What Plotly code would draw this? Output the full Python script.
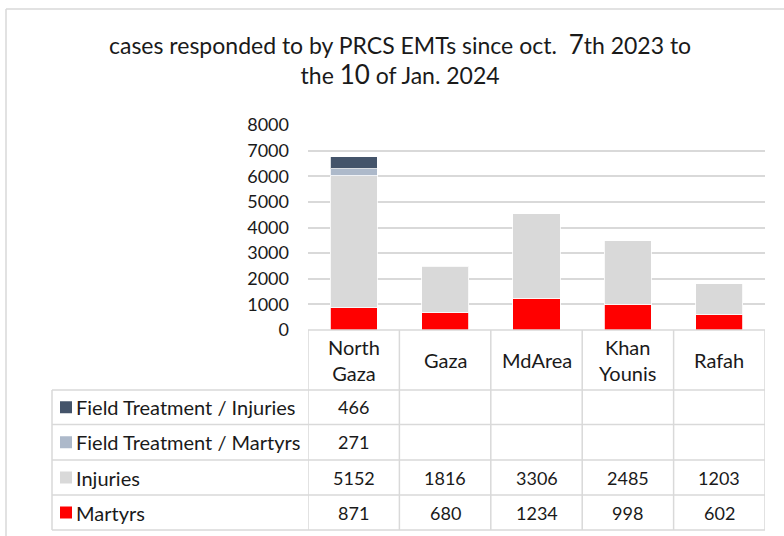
import plotly.graph_objects as go

# ---- data ----
categories = ["North Gaza", "Gaza", "MdArea", "Khan Younis", "Rafah"]
category_labels = ["North<br>Gaza", "Gaza", "MdArea", "Khan<br>Younis", "Rafah"]
martyrs = [871, 680, 1234, 998, 602]
injuries = [5152, 1816, 3306, 2485, 1203]
ft_martyrs = [271, None, None, None, None]
ft_injuries = [466, None, None, None, None]
y_ticks = [0, 1000, 2000, 3000, 4000, 5000, 6000, 7000, 8000]

series_names = ["Field Treatment / Injuries", "Field Treatment / Martyrs", "Injuries", "Martyrs"]
series_values = [ft_injuries, ft_martyrs, injuries, martyrs]
series_colors = ["#44546a", "#adb9ca", "#d9d9d9", "#ff0000"]

FONT = "Lato, Carlito, Calibri, sans-serif"
TEXT = "#1a1a1a"
GRID = "#d9d9d9"
LABEL_SIZE = 20
NUM_SIZE = 18

W, H = 784, 536
L, R, T, B = 308, 765, 125, 330


def px(x):
    return (x - L) / (R - L)


def py(y):
    return (B - y) / (B - T)


fig = go.Figure()
# stacked bars, bottom to top
for name, vals, col in reversed(list(zip(series_names, series_values, series_colors))):
    fig.add_trace(go.Bar(x=categories, y=vals, name=name,
                         marker=dict(color=col, line=dict(color="rgba(255,255,255,0.8)", width=1)),
                         showlegend=False))

shapes = []
annotations = []
line = dict(color=GRID, width=1.5)

# outer chart border
shapes.append(dict(type="line", xref="paper", yref="paper", x0=px(6), x1=px(800), y0=py(9), y1=py(9), line=line))
shapes.append(dict(type="line", xref="paper", yref="paper", x0=px(6), x1=px(6), y0=py(9), y1=py(560), line=line))

# data table
row_edges = [390, 424.5, 460, 495, 530]
header_top = 330
ncat = len(categories)
shapes.append(dict(type="line", xref="x", yref="paper", x0=-0.5, x1=ncat - 0.5,
                   y0=py(header_top), y1=py(header_top), line=line))
for ye in row_edges:
    shapes.append(dict(type="line", xref="paper", yref="paper", x0=px(52), x1=px(R),
                       y0=py(ye), y1=py(ye), line=line))
for i in range(ncat + 1):
    shapes.append(dict(type="line", xref="x", yref="paper", x0=i - 0.5, x1=i - 0.5,
                       y0=py(header_top), y1=py(row_edges[-1]), line=line))
shapes.append(dict(type="line", xref="paper", yref="paper", x0=px(52), x1=px(52),
                   y0=py(row_edges[0]), y1=py(row_edges[-1]), line=line))

# header labels
for cat, lab in zip(categories, category_labels):
    annotations.append(dict(x=cat, xref="x", y=py(360), yref="paper", text=lab, showarrow=False,
                            font=dict(family=FONT, size=LABEL_SIZE, color=TEXT),
                            xanchor="center", yanchor="middle"))

# rows
for r, (name, vals, col) in enumerate(zip(series_names, series_values, series_colors)):
    yc = (row_edges[r] + row_edges[r + 1]) / 2
    shapes.append(dict(type="rect", xref="paper", yref="paper", x0=px(60), x1=px(72),
                       y0=py(yc - 6), y1=py(yc + 6), fillcolor=col, line=dict(width=0)))
    annotations.append(dict(x=px(74), xref="paper", y=py(yc), yref="paper", text=name, showarrow=False,
                            font=dict(family=FONT, size=LABEL_SIZE, color=TEXT),
                            xanchor="left", yanchor="middle"))
    for cat, v in zip(categories, vals):
        if v is None:
            continue
        annotations.append(dict(x=cat, xref="x", y=py(yc), yref="paper", text=str(v), showarrow=False,
                                font=dict(family=FONT, size=NUM_SIZE, color=TEXT),
                                xanchor="center", yanchor="middle"))

# title
annotations.append(dict(
    x=px(400), xref="paper", y=py(59), yref="paper", showarrow=False, xanchor="center", yanchor="middle",
    text="cases responded to by PRCS EMTs since oct.\u00a0 <span style='font-size:26px'>7</span>th 2023 to"
         "<br>the <span style='font-size:26px'>10</span> of Jan. 2024",
    font=dict(family=FONT, size=23, color=TEXT)))

fig.update_layout(
    width=W, height=H,
    margin=dict(l=L, r=W - R, t=T, b=H - B, pad=0),
    paper_bgcolor="white", plot_bgcolor="white",
    barmode="stack", bargap=0.485,
    xaxis=dict(showticklabels=False, showgrid=False, zeroline=False, showline=False,
               range=[-0.5, ncat - 0.5], type="category", categoryorder="array", categoryarray=categories),
    yaxis=dict(range=[0, 8000], tickvals=y_ticks, showgrid=True, gridcolor=GRID, gridwidth=1.5,
               zeroline=False, showline=False, ticks="", ticklabelstandoff=18,
               tickfont=dict(family=FONT, size=NUM_SIZE, color=TEXT)),
    shapes=shapes, annotations=annotations,
)

fig.write_html("out.html", config={"displayModeBar": False},
               post_script="document.body.style.margin='0';document.body.style.overflow='hidden';")
